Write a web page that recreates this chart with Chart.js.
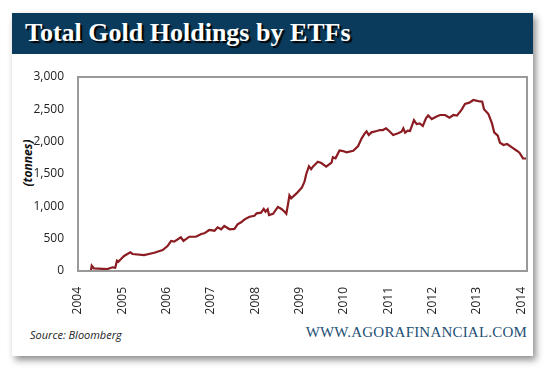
<!DOCTYPE html>
<html><head><meta charset="utf-8">
<script src="https://cdn.jsdelivr.net/npm/chart.js@4/dist/chart.umd.min.js"></script>
<style>
html,body{margin:0;padding:0;background:#fff;width:554px;height:381px;overflow:hidden;}
#card{position:absolute;left:12px;top:13px;width:521px;height:343px;background:#fff;box-shadow:3px 4px 7px rgba(0,0,0,0.45);}
#bar{position:absolute;left:12px;top:13px;width:521px;height:41px;background:#0a3b5c;}
#title{position:absolute;left:25px;top:20px;font:bold 26px 'Liberation Serif',serif;line-height:26px;color:#fff;text-shadow:2px 2px 1px #000;white-space:nowrap;}
#ytitle{position:absolute;left:27px;top:163px;transform:translate(-50%,-50%) rotate(-90deg);font:italic bold 12px 'Open Sans',sans-serif;color:#111;white-space:nowrap;}
#src{position:absolute;left:30px;top:327px;font:italic 11px 'Open Sans',sans-serif;color:#222;white-space:nowrap;}
#web{position:absolute;right:27px;top:324px;font:15px 'Liberation Serif',serif;color:#1d4f74;white-space:nowrap;letter-spacing:0.2px;}
canvas{position:absolute;left:0;top:0;}
</style></head>
<body>
<div id="card"></div>
<div id="bar"></div>
<div id="title">Total Gold Holdings by ETFs</div>
<div id="ytitle">(tonnes)</div>
<div id="src">Source: Bloomberg</div>
<div id="web">WWW.AGORAFINANCIAL.COM</div>
<canvas id="c" width="554" height="381"></canvas>
<script>
const years = [2004.00,2004.29,2004.31,2004.36,2004.66,2004.78,2004.84,2004.88,2004.91,2004.97,
2005.04,2005.18,2005.23,2005.49,2005.72,2005.91,2006.02,2006.10,2006.17,2006.32,2006.38,2006.51,
2006.66,2006.78,2006.85,2006.96,2007.08,2007.15,2007.23,2007.30,2007.42,2007.53,2007.60,2007.68,
2007.76,2007.87,2007.98,2008.03,2008.13,2008.19,2008.23,2008.28,2008.31,2008.40,2008.51,2008.59,
2008.66,2008.70,2008.74,2008.77,2008.81,2008.93,2009.05,2009.11,2009.15,2009.21,2009.26,2009.30,
2009.41,2009.49,2009.60,2009.72,2009.75,2009.81,2009.90,2009.98,2010.06,2010.21,2010.32,2010.40,
2010.47,2010.51,2010.56,2010.62,2010.74,2010.81,2010.88,2010.95,2011.02,2011.11,2011.22,2011.30,
2011.34,2011.38,2011.44,2011.49,2011.58,2011.64,2011.71,2011.78,2011.85,2011.90,2011.98,2012.09,
2012.17,2012.28,2012.38,2012.47,2012.55,2012.66,2012.73,2012.83,2012.92,2013.03,2013.12,2013.16,
2013.26,2013.34,2013.39,2013.47,2013.52,2013.60,2013.68,2013.79,2013.90,2013.96,2014.04,2014.11];
const tonnes = [0,0,82,40,30,57,50,160,144,186,
232,289,263,247,283,325,386,464,455,521,464,530,
530,572,583,634,623,675,645,696,645,650,722,753,
799,840,855,892,902,960,917,954,866,885,990,960,
917,885,1040,1170,1124,1200,1290,1381,1500,1620,1575,1613,
1690,1670,1613,1675,1758,1742,1865,1855,1835,1860,1932,2051,
2129,2160,2103,2144,2165,2180,2180,2206,2165,2103,2129,2154,
2206,2139,2170,2165,2334,2273,2283,2242,2361,2407,2350,2390,
2412,2412,2371,2412,2402,2500,2582,2603,2644,2628,2618,2500,
2427,2283,2144,2092,1984,1948,1963,1912,1860,1829,1742,1740];
const xTicks = [2004,2005,2006,2007,2008,2009,2010,2011,2012,2013,2014];
const yTicks = [0,500,1000,1500,2000,2500,3000];

const points = years.map((y,i)=>({x:y,y:tonnes[i]}));
const tickFont = {family:"'Open Sans', sans-serif", size:12};

const boxPlugin = {
  id:'box',
  afterDraw(chart){
    const a = chart.chartArea, ctx = chart.ctx;
    ctx.save();
    ctx.strokeStyle = '#999';
    ctx.lineWidth = 2;
    ctx.strokeRect(a.left, a.top, a.right-a.left, a.bottom-a.top);
    ctx.restore();
  }
};

new Chart(document.getElementById('c'), {
  type:'line',
  data:{datasets:[{data:points, borderColor:'#8a1c22', borderWidth:2.2, pointRadius:0, tension:0, fill:false}]},
  options:{
    responsive:false, animation:false,
    layout:{padding:{left:20, top:77, right:27, bottom:0}},
    plugins:{legend:{display:false}, tooltip:{enabled:false}},
    scales:{
      x:{type:'linear', min:2004, max:2014.13,
        grid:{display:false}, border:{display:false},
        afterBuildTicks(s){ s.ticks = xTicks.map(v=>({value:v})); },
        afterFit(s){ s.height = 110; },
        ticks:{autoSkip:false, minRotation:90, maxRotation:90, padding:8, color:'#222', font:tickFont,
          callback:(v)=>String(v)}},
      y:{min:0, max:3000,
        grid:{display:false}, border:{display:false},
        afterBuildTicks(s){ s.ticks = yTicks.map(v=>({value:v})); },
        afterFit(s){ s.width = 58; },
        ticks:{padding:6, color:'#222', font:tickFont,
          callback:(v)=>v.toLocaleString('en-US')}}
    }
  },
  plugins:[boxPlugin]
});
</script>
</body></html>
